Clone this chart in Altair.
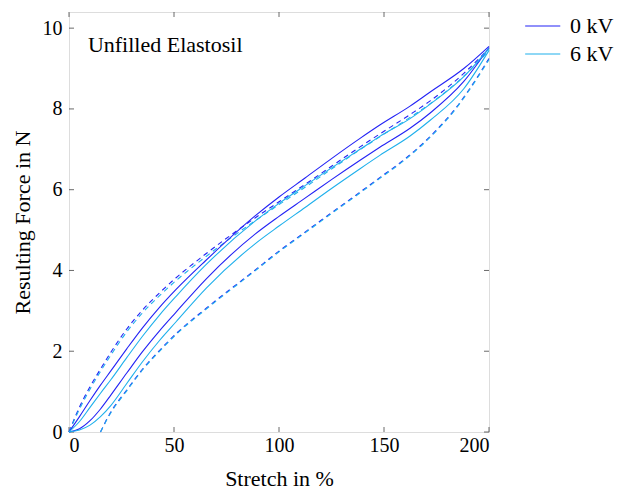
import altair as alt
import pandas as pd

# ---- data ----
ub_x = [0, 5, 10, 15, 20, 27.5, 35, 43, 51, 65, 88.6, 100, 112.4, 125, 138.6, 148, 162.4, 172, 188, 200]
ub_y = [0, 0.38, 0.78, 1.16, 1.52, 2.06, 2.58, 3.08, 3.53, 4.24, 5.35, 5.82, 6.29, 6.77, 7.27, 7.6, 8.07, 8.42, 9.0, 9.55]

uc_x = [0, 5, 10, 15, 20, 27.5, 35, 43, 51, 65, 88.6, 100, 112.4, 125, 138.6, 148, 162.4, 172, 188, 200]
uc_y = [0, 0.26, 0.61, 0.96, 1.3, 1.84, 2.37, 2.89, 3.36, 4.13, 5.22, 5.66, 6.1, 6.54, 7.0, 7.32, 7.76, 8.12, 8.8, 9.5]

lb_x = [0, 5, 10, 15, 20, 27.5, 35, 43, 51, 65.5, 88.6, 100, 112.4, 125, 138.6, 148, 162.4, 172, 188, 200]
lb_y = [0, 0.08, 0.28, 0.57, 0.92, 1.46, 1.99, 2.5, 2.97, 3.8, 4.9, 5.34, 5.79, 6.25, 6.73, 7.05, 7.52, 7.9, 8.68, 9.52]

lc_x = [0, 5, 10, 15, 20, 27.5, 35, 43, 51, 65.5, 88.6, 100, 112.4, 125, 138.6, 148, 162.4, 172, 188, 200]
lc_y = [0, 0.05, 0.17, 0.38, 0.66, 1.2, 1.74, 2.26, 2.73, 3.57, 4.66, 5.1, 5.56, 6.03, 6.52, 6.85, 7.33, 7.72, 8.5, 9.45]

ud0_x = [0, 5, 10, 15, 20, 27.5, 35, 43, 51, 62.4, 88.6, 100, 112.4, 125, 138.6, 148, 162.4, 172, 188, 200]
ud0_y = [0, 0.62, 1.12, 1.56, 1.98, 2.55, 3.02, 3.44, 3.82, 4.3, 5.3, 5.7, 6.13, 6.58, 7.06, 7.38, 7.86, 8.2, 8.88, 9.5]
ud6_y = [0, 0.57, 1.06, 1.5, 1.91, 2.48, 2.95, 3.37, 3.75, 4.23, 5.23, 5.63, 6.06, 6.51, 6.99, 7.31, 7.79, 8.13, 8.81, 9.45]

ld_x = [15, 19.5, 27.5, 35.4, 43.3, 51.3, 65.5, 88.6, 100, 112.4, 125, 138.6, 148, 159, 172, 184.6, 194, 200]
ld0_y = [0, 0.46, 1.04, 1.58, 2.03, 2.45, 3.07, 4.01, 4.48, 4.95, 5.43, 5.94, 6.3, 6.72, 7.32, 8.05, 8.75, 9.25]
ld6_y = [0, 0.44, 1.02, 1.56, 2.01, 2.43, 3.05, 3.99, 4.46, 4.93, 5.41, 5.92, 6.28, 6.7, 7.3, 8.03, 8.73, 9.22]

series = ["0 kV", "6 kV"]
colors = ["#2323f5", "#1fb0ec"]
x_ticks = [0, 50, 100, 150, 200]
y_ticks = [0, 2, 4, 6, 8, 10]
title_text = "Unfilled Elastosil"

FONT = "Liberation Serif"
FS_TICK = 20
FS_TEXT = 22


def frame(xs, ys, kv, curve):
    return pd.DataFrame({"x": xs, "y": ys, "kv": kv, "curve": curve, "i": range(len(xs))})


solid = pd.concat([
    frame(ub_x, ub_y, "0 kV", "0 up"),
    frame(lb_x, lb_y, "0 kV", "0 down"),
    frame(uc_x, uc_y, "6 kV", "6 up"),
    frame(lc_x, lc_y, "6 kV", "6 down"),
])
dashed = pd.concat([
    frame(ud0_x, ud0_y, "0 kV", "0 up d"),
    frame(ld_x, ld0_y, "0 kV", "0 down d"),
    frame(ud0_x, ud6_y, "6 kV", "6 up d"),
    frame(ld_x, ld6_y, "6 kV", "6 down d"),
])

xs = alt.Scale(domain=[0, 200], nice=False, zero=False)
ys = alt.Scale(domain=[0, 10.4], nice=False, zero=False)
cs = alt.Scale(domain=series, range=colors)

xax = alt.Axis(values=x_ticks, ticks=False, domain=False, grid=False, labelPadding=3,
               labelFont=FONT, labelFontSize=FS_TICK, labelColor="black", title="Stretch in %",
               titleFont=FONT, titleFontSize=FS_TEXT, titleFontWeight="normal", titleColor="black",
               titlePadding=13)
yax = alt.Axis(values=y_ticks, ticks=False, domain=False, grid=False, labelPadding=7,
               labelFont=FONT, labelFontSize=FS_TICK, labelColor="black", title="Resulting Force in N",
               titleFont=FONT, titleFontSize=FS_TEXT, titleFontWeight="normal", titleColor="black",
               titlePadding=8)

legend = alt.Legend(title=None, orient="none", legendX=451, legendY=3,
                    symbolType="M-1,0L5,0", symbolSize=137, symbolStrokeWidth=1.2,
                    labelFont=FONT, labelFontSize=FS_TEXT, labelColor="black", labelOffset=28,
                    rowPadding=6)

solid_layer = alt.Chart(solid).mark_line(strokeWidth=1.1, interpolate="monotone").encode(
    x=alt.X("x:Q", scale=xs, axis=xax),
    y=alt.Y("y:Q", scale=ys, axis=yax),
    color=alt.Color("kv:N", scale=cs, legend=legend),
    detail="curve:N",
    order="i:Q",
)
dashed_layer = alt.Chart(dashed).mark_line(strokeWidth=1.1, strokeDash=[5, 4], interpolate="monotone").encode(
    x=alt.X("x:Q", scale=xs),
    y=alt.Y("y:Q", scale=ys),
    color=alt.Color("kv:N", scale=cs),
    detail="curve:N",
    order="i:Q",
)

xt = pd.DataFrame({"t": x_ticks})
yt = pd.DataFrame({"t": y_ticks})
tick_style = dict(color="#444", strokeWidth=0.8)
ticks_bottom = alt.Chart(xt).mark_rule(**tick_style).encode(
    x=alt.X("t:Q", scale=xs), y=alt.value(420), y2=alt.value(415))
ticks_top = alt.Chart(xt).mark_rule(**tick_style).encode(
    x=alt.X("t:Q", scale=xs), y=alt.value(0), y2=alt.value(5))
ticks_left = alt.Chart(yt).mark_rule(**tick_style).encode(
    y=alt.Y("t:Q", scale=ys), x=alt.value(0), x2=alt.value(5))
ticks_right = alt.Chart(yt).mark_rule(**tick_style).encode(
    y=alt.Y("t:Q", scale=ys), x=alt.value(420), x2=alt.value(415))

label = alt.Chart(pd.DataFrame({"x": [9], "y": [9.58], "s": [title_text]})).mark_text(
    font=FONT, fontSize=FS_TEXT, align="left", baseline="middle", color="black"
).encode(x=alt.X("x:Q", scale=xs), y=alt.Y("y:Q", scale=ys), text="s:N")

chart = alt.layer(
    ticks_bottom, ticks_top, ticks_left, ticks_right, dashed_layer, solid_layer, label
).properties(
    width=420, height=420,
    autosize=alt.AutoSizeParams(type="none"),
    padding={"left": 69, "top": 12, "right": 128, "bottom": 58},
).configure_view(stroke="black", strokeWidth=1).configure(background="white")

chart.save("out.html", embed_options={"renderer": "svg", "actions": False})
